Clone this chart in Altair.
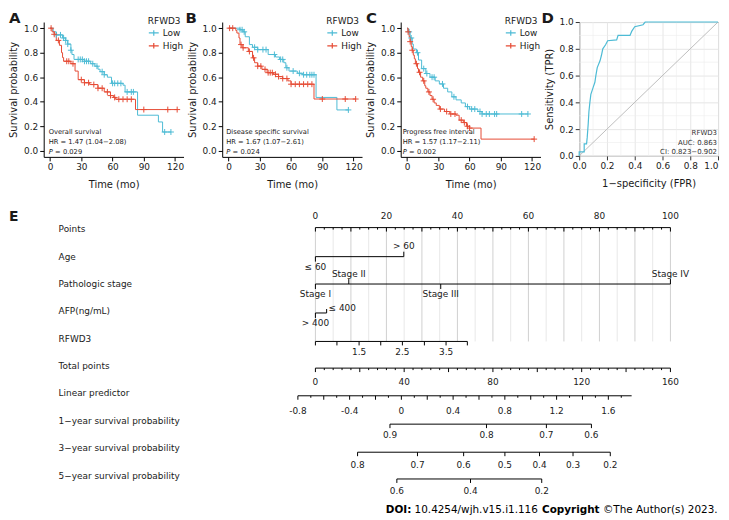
import altair as alt
import pandas as pd

FONT = "DejaVu Sans"
BLUE = "#4DBBD5"
RED = "#E64B35"
INK = "#1a1a1a"

# ---------------- Kaplan-Meier data (time in months, survival probability) ----------------
A_LOW_T = [0, 3, 6, 12, 15, 17, 20, 21, 23, 33, 39, 43, 46, 48, 52, 55, 59, 70, 72, 84, 104, 108, 116]
A_LOW_S = [1.0, 0.97, 0.945, 0.92, 0.90, 0.87, 0.82, 0.785, 0.745, 0.73, 0.71, 0.69, 0.665, 0.645, 0.62, 0.60, 0.55, 0.535, 0.48, 0.29, 0.235, 0.153, 0.153]
A_HIGH_T = [0, 2, 4, 6, 9, 11, 12, 13, 20, 24, 27, 33, 38, 46, 52, 58, 61, 63, 82, 122]
A_HIGH_S = [1.0, 0.97, 0.95, 0.90, 0.86, 0.80, 0.76, 0.73, 0.71, 0.65, 0.58, 0.555, 0.54, 0.51, 0.48, 0.45, 0.435, 0.42, 0.336, 0.336]
A_CENS_LOW = [6, 10, 13, 15, 17, 20, 27, 29, 31, 33, 35, 37, 41, 45, 50, 52, 60, 62, 65, 68, 74, 78, 80, 110, 116]
A_CENS_HIGH = [1, 4, 8, 16, 18, 22, 30, 33, 37, 42, 46, 50, 55, 58, 62, 66, 70, 74, 78, 90, 113, 122]

B_LOW_T = [0, 11, 14, 16, 20, 23, 28, 38, 45, 49, 53, 55, 58, 66, 71, 84, 104, 115]
B_LOW_S = [1.0, 0.987, 0.97, 0.93, 0.866, 0.844, 0.825, 0.785, 0.765, 0.745, 0.718, 0.677, 0.65, 0.632, 0.62, 0.435, 0.333, 0.333]
B_HIGH_T = [0, 7, 8, 10, 11, 13, 19, 23, 25, 28, 32, 37, 43, 48, 52, 57, 60, 82, 122]
B_HIGH_S = [1.0, 0.98, 0.96, 0.92, 0.866, 0.84, 0.81, 0.758, 0.718, 0.69, 0.664, 0.637, 0.624, 0.605, 0.589, 0.57, 0.543, 0.422, 0.422]
B_CENS_LOW = [11, 13, 15, 25, 28, 33, 36, 44, 50, 52, 56, 62, 68, 72, 75, 78, 80, 82, 115]
B_CENS_HIGH = [1, 4, 12, 14, 20, 24, 28, 31, 35, 38, 40, 42, 45, 48, 52, 56, 60, 64, 68, 72, 76, 80, 90, 112, 122]

C_LOW_T = [0, 1, 3, 5, 6, 9, 11, 14, 18, 22, 27, 31, 35, 39, 43, 47, 52, 56, 60, 68, 72, 116]
C_LOW_S = [1.0, 0.97, 0.92, 0.87, 0.83, 0.80, 0.74, 0.67, 0.63, 0.60, 0.57, 0.545, 0.51, 0.48, 0.44, 0.415, 0.39, 0.36, 0.34, 0.32, 0.30, 0.30]
C_HIGH_T = [0, 1, 2, 3, 4, 5, 6, 7, 8, 10, 11, 13, 15, 17, 18, 20, 22, 24, 26, 28, 31, 36, 41, 47, 50, 54, 57, 60, 71, 122]
C_HIGH_S = [1.0, 0.97, 0.93, 0.89, 0.85, 0.82, 0.78, 0.75, 0.71, 0.67, 0.64, 0.60, 0.57, 0.53, 0.51, 0.48, 0.45, 0.42, 0.39, 0.37, 0.34, 0.32, 0.30, 0.29, 0.25, 0.23, 0.20, 0.185, 0.095, 0.095]
C_CENS_LOW = [2, 4, 10, 16, 19, 24, 26, 34, 45, 58, 62, 65, 70, 72, 76, 79, 84, 86, 110, 116]
C_CENS_HIGH = [1, 3, 5, 9, 12, 16, 21, 25, 32, 38, 42, 46, 52, 55, 58, 60, 122]

# ---------------- ROC data ----------------
ROC_FPR = [0, 0, 0.036, 0.036, 0.053, 0.058, 0.065, 0.07, 0.077, 0.084, 0.10, 0.113, 0.12, 0.13, 0.15, 0.16, 0.17, 0.19, 0.205, 0.27, 0.28, 0.366, 0.378, 0.40, 0.46, 0.475, 1.0]
ROC_TPR = [0, 0.03, 0.03, 0.09, 0.09, 0.14, 0.24, 0.33, 0.40, 0.46, 0.51, 0.55, 0.60, 0.66, 0.71, 0.75, 0.80, 0.83, 0.86, 0.866, 0.90, 0.90, 0.93, 0.965, 0.98, 1.0, 1.0]

# ---------------- Nomogram data (positions on the Points scale 0-100) ----------------
ROW_NAMES = ["Points", "Age", "Pathologic stage", "AFP(ng/mL)", "RFWD3", "Total points",
             "Linear predictor", "1\u2212year survival probability", "3\u2212year survival probability",
             "5\u2212year survival probability"]
POINTS_LABELS = [0, 20, 40, 60, 80, 100]
AGE_LEVELS = ["\u2264 60", "> 60"]
AGE_PTS = [0, 24.9]
STAGE_LEVELS = ["Stage I", "Stage II", "Stage III", "Stage IV"]
STAGE_PTS = [0, 9.4, 35.3, 100]
AFP_LEVELS = ["\u2264 400", "> 400"]
AFP_PTS = [3.16, 0]
RFWD3_VALUES = [0.5, 1.0, 1.5, 2.0, 2.5, 3.0, 3.5, 4.0]
RFWD3_PTS = [0, 6.06, 12.3, 18.4, 24.5, 30.7, 36.8, 42.8]
RFWD3_SHOWN = ["1.5", "2.5", "3.5"]
TOTAL_MAX = 160
TOTAL_LABELS = [0, 40, 80, 120, 160]
LP_LABELS = [-0.8, -0.4, 0, 0.4, 0.8, 1.2, 1.6]
LP_RANGE = [-0.8, 1.78]
LP_AT_MINUS08_TOTAL = -7.9     # total-points position of LP = -0.8
LP_TOTAL_PER_UNIT = 58.3       # total points per LP unit
SURV1_LABELS = ["0.9", "0.8", "0.7", "0.6"]
SURV1_TOTAL = [33.6, 77.1, 104.1, 124.4]
SURV3_LABELS = ["0.8", "0.7", "0.6", "0.5", "0.4", "0.3", "0.2"]
SURV3_TOTAL = [19.0, 46.0, 66.8, 85.4, 101.0, 116.1, 132.9]
SURV5_LABELS = ["0.6", "0.4", "0.2"]
SURV5_TOTAL = [36.7, 69.9, 102.0]

CROSS = "M-1,0H1M0,-1V1"
LEG_SYM = "M-1,0H1M0,-0.55V0.55"
ONE = pd.DataFrame({"_": [0]})

AX = dict(domainColor="#000000", tickColor="#000000", labelColor=INK, titleColor=INK,
          labelFont=FONT, titleFont=FONT, labelFontSize=9, titleFontSize=10,
          titleFontWeight="normal", tickSize=4, labelPadding=2, domainWidth=1, tickWidth=1,
          labelOverlap=False, tickCount=12)


def txt(text, x, y, size, align="left", weight="normal", style="normal", baseline="middle", color=INK):
    return alt.Chart(ONE).mark_text(align=align, baseline=baseline, font=FONT, fontSize=size,
                                    fontWeight=weight, fontStyle=style, color=color).encode(
        x=alt.value(x), y=alt.value(y), text=alt.value(text))


def step_at(ts, ss, c):
    v = ss[0]
    for t, s in zip(ts, ss):
        if t <= c:
            v = s
    return v


def km_panel(low_t, low_s, high_t, high_s, cens_low, cens_high, ann, hr, pval, letter, letter_x, ann_x):
    curve = pd.DataFrame({"t": low_t + high_t, "s": low_s + high_s,
                          "g": ["Low"] * len(low_t) + ["High"] * len(high_t)})
    cens = pd.DataFrame({"t": cens_low + cens_high,
                         "s": [step_at(low_t, low_s, c) for c in cens_low] +
                              [step_at(high_t, high_s, c) for c in cens_high],
                         "g": ["Low"] * len(cens_low) + ["High"] * len(cens_high)})
    xs = alt.Scale(domain=[-6.1, 128.1], nice=False, zero=False)
    ys = alt.Scale(domain=[-0.05, 1.05], nice=False, zero=False)
    x = alt.X("t:Q", scale=xs, axis=alt.Axis(values=[0, 30, 60, 90, 120], title="Time (mo)",
                                             grid=False, titlePadding=8, **AX))
    y = alt.Y("s:Q", scale=ys, axis=alt.Axis(values=[0, 0.2, 0.4, 0.6, 0.8, 1.0], format=".1f",
                                             title="Survival probability", grid=False,
                                             titlePadding=5, **AX))
    col = alt.Color("g:N", scale=alt.Scale(domain=["Low", "High"], range=[BLUE, RED]),
                    legend=alt.Legend(orient="none", legendX=105, legendY=-5, title="RFWD3",
                                      titleFont=FONT, titleFontSize=9, titleFontWeight="normal",
                                      titleColor=INK, titlePadding=1, labelFont=FONT,
                                      labelFontSize=9, labelColor=INK, labelOffset=3,
                                      symbolType=LEG_SYM, symbolSize=100, symbolStrokeWidth=1.2,
                                      rowPadding=1, padding=0))
    lines = alt.Chart(curve).mark_line(interpolate="step-after", strokeWidth=1).encode(x=x, y=y, color=col)
    pts = alt.Chart(cens).mark_point(shape=CROSS, size=36, filled=False, strokeWidth=1, opacity=1).encode(
        x="t:Q", y="s:Q", color=alt.Color("g:N", legend=None))
    layers = [lines, pts,
              txt(ann, ann_x, 111, 6.8),
              txt(hr, ann_x, 121, 6.8),
              txt("P", ann_x, 131, 6.8, style="italic"),
              txt("= " + pval, ann_x + 6.5, 131, 6.8),
              txt(letter, letter_x, -11, 15, weight="bold", baseline="top")]
    return alt.layer(*layers).properties(width=141, height=136)


A = km_panel(A_LOW_T, A_LOW_S, A_HIGH_T, A_HIGH_S, A_CENS_LOW, A_CENS_HIGH,
             "Overall survival", "HR = 1.47 (1.04\u22122.08)", "0.029", "A", -35, 5)
B = km_panel(B_LOW_T, B_LOW_S, B_HIGH_T, B_HIGH_S, B_CENS_LOW, B_CENS_HIGH,
             "Disease specific survival", "HR = 1.67 (1.07\u22122.61)", "0.024", "B", -37, 4)
C = km_panel(C_LOW_T, C_LOW_S, C_HIGH_T, C_HIGH_S, C_CENS_LOW, C_CENS_HIGH,
             "Progress free interval", "HR = 1.57 (1.17\u22122.11)", "0.002", "C", -35, 2)

# ---------------- ROC panel ----------------
roc_df = pd.DataFrame({"fpr": ROC_FPR, "tpr": ROC_TPR, "i": list(range(len(ROC_FPR)))})
diag_df = pd.DataFrame({"fpr": [0, 1], "tpr": [0, 1]})
minor_df = pd.DataFrame({"v": [0.1, 0.3, 0.5, 0.7, 0.9]})
rs = alt.Scale(domain=[0, 1], nice=False, zero=False)
ROC_AX = dict(AX)
ROC_AX.update(domain=False, tickColor="#333333")
rx = alt.X("fpr:Q", scale=rs, axis=alt.Axis(
    values=[0, 0.2, 0.4, 0.6, 0.8, 1.0], format=".1f", title="1\u2212specificity (FPR)",
    grid=True, gridColor="#E6E6E6", gridWidth=1, titlePadding=8,
    labelAlign={"condition": {"test": "datum.value >= 1", "value": "right"}, "value": "center"},
    **ROC_AX))
ry = alt.Y("tpr:Q", scale=rs, axis=alt.Axis(
    values=[0, 0.2, 0.4, 0.6, 0.8, 1.0], format=".1f", title="Sensitivity (TPR)",
    grid=True, gridColor="#E6E6E6", gridWidth=1, titlePadding=5, **ROC_AX))
roc_minor_x = alt.Chart(minor_df).mark_rule(color="#EDEDED", strokeWidth=0.6).encode(x=alt.X("v:Q", scale=rs))
roc_minor_y = alt.Chart(minor_df).mark_rule(color="#EDEDED", strokeWidth=0.6).encode(y=alt.Y("v:Q", scale=rs))
roc_diag = alt.Chart(diag_df).mark_line(color="#BDBDBD", strokeWidth=1).encode(x=rx, y=ry)
roc_line = alt.Chart(roc_df).mark_line(color=BLUE, strokeWidth=1.2).encode(x="fpr:Q", y="tpr:Q", order="i:Q")
D = alt.layer(
    roc_minor_x, roc_minor_y, roc_diag, roc_line,
    txt("RFWD3", 139, 111.7, 7, align="right", color="#333333"),
    txt("AUC: 0.863", 139, 121.7, 7, align="right", color="#333333"),
    txt("CI: 0.823\u22120.902", 139, 131, 7, align="right", color="#333333"),
    txt("D", -38, -11, 15, weight="bold", baseline="top"),
).properties(width=140, height=135, view=alt.ViewBackground(stroke="#333333", strokeWidth=1))

top_row = alt.hconcat(A, B, C, D, spacing=39, bounds="flush").resolve_scale(
    x="independent", y="independent", color="independent").resolve_legend(color="independent")

# ---------------- Nomogram panel ----------------
ROW_PX = 27.6
E_W, E_H = 680, 310
PX_PER_PT = 3.58
Y_TOP = -25 / ROW_PX
Y_BOT = Y_TOP + E_H / ROW_PX
X_MIN = -274 / PX_PER_PT
X_MAX = X_MIN + E_W / PX_PER_PT
TOT2PTS = 100 / TOTAL_MAX


def yv(row, off):
    return row + off / ROW_PX


SEG, TXT_C, TXT_L = [], [], []


def seg(x1, y1, x2, y2):
    SEG.append({"x": x1, "y": y1, "x2": x2, "y2": y2})


def scale_row(row, line_off, tick_pos, tick_len, lab_pos, lab_txt, lab_off, span=None):
    yl = yv(row, line_off)
    lo, hi = span if span else (min(tick_pos), max(tick_pos))
    seg(lo, yl, hi, yl)
    for p, L in zip(tick_pos, tick_len):
        seg(p, yl, p, yv(row, line_off + L))
    for p, t in zip(lab_pos, lab_txt):
        TXT_C.append({"x": p, "y": yv(row, line_off + lab_off), "t": t})


def var_row(row, line_off, pos, names, sides):
    yl = yv(row, line_off)
    seg(min(pos), yl, max(pos), yl)
    for p, n, sd in zip(pos, names, sides):
        if sd == "below":
            seg(p, yl, p, yv(row, line_off + 5))
            TXT_C.append({"x": p, "y": yv(row, line_off + 10), "t": n})
        elif sd == "above":
            seg(p, yl, p, yv(row, line_off - 5))
            TXT_C.append({"x": p, "y": yv(row, line_off - 10.5), "t": n})
        else:
            seg(p, yl, p, yv(row, line_off - 4))
            TXT_L.append({"x": p, "y": yv(row, line_off - 5), "t": n})


pts_ticks = [2.5 * k for k in range(41)]
scale_row(0, -1.7, pts_ticks, [4 if k % 4 == 0 else 2 for k in range(41)],
          POINTS_LABELS, [str(v) for v in POINTS_LABELS], -11.6)
var_row(1, 0, AGE_PTS, AGE_LEVELS, ["below", "above"])
var_row(2, 0, STAGE_PTS, STAGE_LEVELS, ["below", "above", "below", "above"])
var_row(3, 1.6, AFP_PTS, AFP_LEVELS, ["aboveright", "below"])
scale_row(4, 2.7, RFWD3_PTS, [4] * len(RFWD3_PTS),
          [p for v, p in zip(RFWD3_VALUES, RFWD3_PTS) if str(v) in RFWD3_SHOWN], RFWD3_SHOWN, 11)
tot_ticks = list(range(0, TOTAL_MAX + 1, 4))
scale_row(5, 2, [t * TOT2PTS for t in tot_ticks], [4 if t % 20 == 0 else 2 for t in tot_ticks],
          [t * TOT2PTS for t in TOTAL_LABELS], [str(t) for t in TOTAL_LABELS], 14)


def lp2pts(v):
    return (LP_AT_MINUS08_TOTAL + (v + 0.8) * LP_TOTAL_PER_UNIT) * TOT2PTS


lp_ticks = [round(-0.8 + 0.1 * k, 1) for k in range(26)]
scale_row(6, 2.3, [lp2pts(v) for v in lp_ticks],
          [4 if round(v * 10) % 2 == 0 else 2 for v in lp_ticks],
          [lp2pts(v) for v in LP_LABELS], [("%g" % v) for v in LP_LABELS], 15,
          span=(lp2pts(LP_RANGE[0]), lp2pts(LP_RANGE[1])))
for row, off, tot, labs, loff in [(7, 3.3, SURV1_TOTAL, SURV1_LABELS, 11),
                                  (8, 4.0, SURV3_TOTAL, SURV3_LABELS, 13),
                                  (9, 3.4, SURV5_TOTAL, SURV5_LABELS, 12)]:
    pp = [t * TOT2PTS for t in tot]
    scale_row(row, off, pp, [4] * len(pp), pp, labs, loff)

grid_pts = [5 * k for k in range(21)]
grid_df = pd.DataFrame({"x": grid_pts, "y": [yv(0, -1.7)] * 21, "y2": [yv(4, 2.7)] * 21,
                        "major": [k % 2 == 0 for k in range(21)]})
seg_df = pd.DataFrame(SEG)
txtc_df = pd.DataFrame(TXT_C)
txtl_df = pd.DataFrame(TXT_L)
rows_df = pd.DataFrame({"name": ROW_NAMES, "row": list(range(len(ROW_NAMES)))})

ex = alt.Scale(domain=[X_MIN, X_MAX], nice=False, zero=False)
ey = alt.Scale(domain=[Y_TOP, Y_BOT], nice=False, zero=False, reverse=True)

g_layer = alt.Chart(grid_df).mark_rule(strokeWidth=1).encode(
    x=alt.X("x:Q", scale=ex, axis=None), y=alt.Y("y:Q", scale=ey, axis=None), y2="y2:Q",
    color=alt.condition("datum.major", alt.value("#CFCFCF"), alt.value("#E8E8E8")))
s_layer = alt.Chart(seg_df).mark_rule(strokeWidth=1, color="#000000").encode(
    x=alt.X("x:Q", scale=ex, axis=None), y=alt.Y("y:Q", scale=ey, axis=None), x2="x2:Q", y2="y2:Q")
tc_layer = alt.Chart(txtc_df).mark_text(align="center", baseline="middle", font=FONT, fontSize=9,
                                        color=INK).encode(
    x=alt.X("x:Q", scale=ex, axis=None), y=alt.Y("y:Q", scale=ey, axis=None), text="t:N")
tl_layer = alt.Chart(txtl_df).mark_text(align="left", baseline="middle", font=FONT, fontSize=9,
                                        color=INK, dx=2).encode(
    x=alt.X("x:Q", scale=ex, axis=None), y=alt.Y("y:Q", scale=ey, axis=None), text="t:N")
rn_layer = alt.Chart(rows_df).mark_text(align="left", baseline="middle", font=FONT, fontSize=9,
                                        color=INK).encode(
    x=alt.value(15), y=alt.Y("row:Q", scale=ey, axis=None), text="name:N")

E = alt.layer(
    g_layer, s_layer, tc_layer, tl_layer, rn_layer,
    txt("E", -35, 13, 14, weight="bold"),
    txt("DOI:", 345, 308, 10.5, weight="bold", color="#000000"),
    txt("10.4254/wjh.v15.i1.116", 374, 308, 10.5, color="#000000"),
    txt("Copyright", 502.5, 308, 10.5, weight="bold", color="#000000"),
    txt("\u00a9The Author(s) 2023.", 563.9, 308, 10.5, color="#000000"),
).properties(width=E_W, height=E_H)

chart = alt.vconcat(top_row, E, spacing=15).resolve_scale(
    x="independent", y="independent", color="independent").resolve_legend(
    color="independent").properties(padding=0).configure_view(stroke=None)

chart.save("out.html", embed_options={"renderer": "svg", "actions": False})
